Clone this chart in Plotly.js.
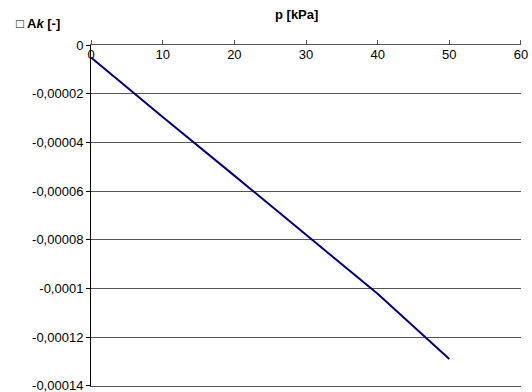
<!DOCTYPE html>
<html>
<head>
<meta charset="utf-8">
<script src="https://cdn.plot.ly/plotly-3.0.1.min.js"></script>
<style>html,body{margin:0;padding:0;background:#fff;}#chart{width:532px;height:392px;}</style>
</head>
<body>
<div id="chart"></div>
<script>
var pressure = [0, 10, 20, 30, 40, 50];
var deltaK = [-0.0000050, -0.0000295, -0.0000536, -0.0000780, -0.0001022, -0.0001290];
var yTickVals = [0, -0.00002, -0.00004, -0.00006, -0.00008, -0.0001, -0.00012, -0.00014];
var yTickText = ["0", "-0,00002", "-0,00004", "-0,00006", "-0,00008", "-0,0001", "-0,00012", "-0,00014"];
var xTickVals = [0, 10, 20, 30, 40, 50, 60];

var trace = {
  x: pressure, y: deltaK, type: 'scatter', mode: 'lines',
  line: {color: '#000080', width: 2}, hoverinfo: 'skip'
};
var ghost = {
  x: pressure, y: deltaK, xaxis: 'x2', type: 'scatter', mode: 'lines',
  line: {width: 0}, opacity: 0, hoverinfo: 'skip'
};

var layout = {
  width: 532, height: 392,
  margin: {l: 91, r: 11, t: 45, b: 6},
  paper_bgcolor: '#ffffff', plot_bgcolor: '#ffffff',
  showlegend: false,
  font: {family: 'Liberation Sans, Arial, sans-serif', size: 13, color: '#000'},
  xaxis: {
    range: [-0.01, 60.01], anchor: 'y', side: 'top',
    tickvals: xTickVals, showticklabels: false,
    ticks: 'outside', ticklen: 4, tickcolor: '#555',
    showline: true, mirror: true, linecolor: '#555', linewidth: 1,
    showgrid: false, zeroline: false, fixedrange: true
  },
  xaxis2: {
    range: [-0.01, 60.01], overlaying: 'x', anchor: 'free', position: 1, side: 'bottom',
    tickvals: xTickVals, ticks: '', showline: false, ticklabeloverflow: 'allow',
    tickfont: {color: '#000', size: 13},
    showgrid: false, zeroline: false, fixedrange: true
  },
  yaxis: {
    range: [-0.0001401, 0.0000001], tickvals: yTickVals, ticktext: yTickText,
    ticks: 'outside', ticklen: 4, tickcolor: '#000', ticklabeloverflow: 'allow',
    tickfont: {color: '#000', size: 13},
    showline: true, linecolor: '#000', linewidth: 1,
    showgrid: true, gridcolor: '#555', gridwidth: 1,
    zeroline: false, fixedrange: true, automargin: false
  },
  annotations: [
    {text: '<b>p [kPa]</b>', xref: 'paper', yref: 'paper', x: 0.477, y: 1.088,
     xanchor: 'center', yanchor: 'middle', showarrow: false, font: {size: 13}},
    {text: '<b>□ A<i>k</i> [-]</b>', xref: 'paper', yref: 'paper', x: -0.18, y: 1.0645,
     xanchor: 'left', yanchor: 'middle', showarrow: false, font: {size: 13}}
  ]
};

Plotly.newPlot('chart', [trace, ghost], layout, {staticPlot: true, displayModeBar: false});
</script>
</body>
</html>
